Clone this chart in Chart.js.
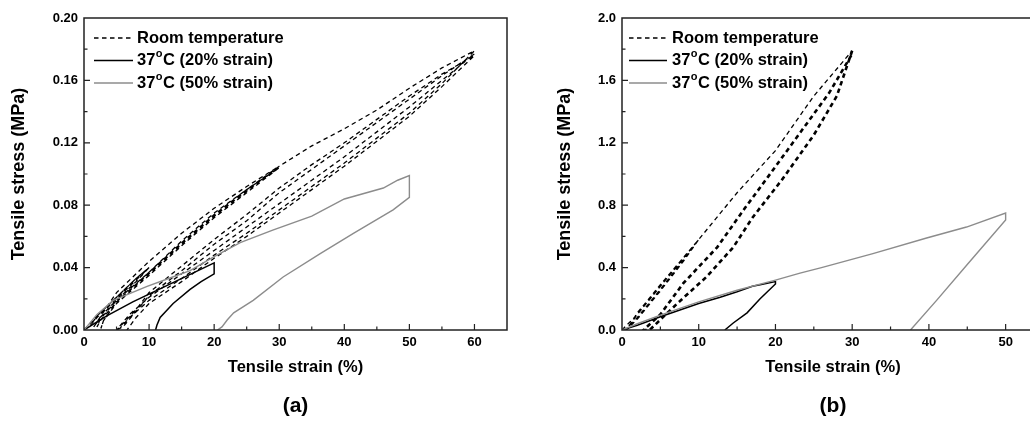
<!DOCTYPE html>
<html lang="en">
<head>
<meta charset="UTF-8">
<title>Tensile stress-strain cycles</title>
<style>
    html, body { margin: 0; padding: 0; background: #fff; width: 1030px; height: 422px; overflow: hidden; }
    .panel { position: absolute; top: 0; }
    #wrapA { left: 0; }
    #wrapB { left: 546px; }
</style>
<script src="https://cdn.jsdelivr.net/npm/chart.js"></script>
</head>
<body>
<div id="wrapA" class="panel"><canvas id="chartA" width="515" height="422"></canvas></div>
<div id="wrapB" class="panel"><canvas id="chartB" width="506" height="422"></canvas></div>
<script>
// ---- data, panel (a) ----
const seriesNames = ['Room temperature', '37°C (20% strain)', '37°C (50% strain)'];

const rtStrainA = [0, 2, 4, 6, 8, 10, 8, 6, 4, 2, 1, 2, 4, 6, 8, 10, 8, 6, 4, 2.5, 1.5,
    5, 10, 15, 20, 25, 30,
    25, 20, 15, 10, 5, 2.5, 2,
    2.5, 5, 10, 15, 20, 25, 30,
    25, 20, 15, 10, 5, 3, 2.6,
    3, 5, 10, 15, 20, 25, 30,
    35, 40, 45, 50, 55, 60,
    55, 50, 45, 40, 35, 30, 25, 20, 15, 10, 7, 5.5,
    6, 8, 10, 15, 20, 25, 30, 35, 40, 45, 50, 55, 60,
    55, 50, 45, 40, 35, 30, 25, 20, 15, 10, 7, 5,
    5.5, 8, 10, 15, 20, 25, 30, 35, 40, 45, 50, 55, 60,
    55, 50, 45, 40, 35, 30, 25, 20, 15, 10, 8, 6.6];
const rtStressA = [0, 0.009, 0.017, 0.025, 0.033, 0.040, 0.032, 0.024, 0.016, 0.008, 0.003, 0.009, 0.017, 0.025, 0.033, 0.040, 0.031, 0.023, 0.015, 0.008, 0.002,
    0.024, 0.044, 0.062, 0.078, 0.092, 0.105,
    0.089, 0.073, 0.055, 0.036, 0.018, 0.006, 0.002,
    0.007, 0.019, 0.037, 0.057, 0.075, 0.090, 0.104,
    0.088, 0.072, 0.054, 0.035, 0.017, 0.006, 0.001,
    0.006, 0.018, 0.037, 0.056, 0.074, 0.090, 0.105,
    0.118, 0.129, 0.141, 0.155, 0.168, 0.179,
    0.158, 0.139, 0.123, 0.107, 0.092, 0.077, 0.062, 0.048, 0.033, 0.019, 0.008, 0.001,
    0.002, 0.012, 0.022, 0.038, 0.055, 0.070, 0.088, 0.103, 0.118, 0.133, 0.148, 0.163, 0.177,
    0.160, 0.143, 0.127, 0.111, 0.096, 0.081, 0.066, 0.051, 0.036, 0.021, 0.010, 0,
    0.002, 0.013, 0.024, 0.041, 0.058, 0.074, 0.091, 0.106, 0.120, 0.135, 0.150, 0.164, 0.176,
    0.156, 0.137, 0.121, 0.105, 0.090, 0.075, 0.060, 0.046, 0.031, 0.017, 0.008, 0];

const hot20StrainA = [0, 3.5, 7.5, 12, 16, 18, 20, 20, 18, 16.3, 13.7, 11.7, 11.2, 11];
const hot20StressA = [0, 0.009, 0.018, 0.027, 0.035, 0.039, 0.043, 0.036, 0.031, 0.026, 0.017, 0.008, 0.003, 0];

const hot50StrainA = [0, 2, 4.5, 9.7, 13, 16.3, 20, 24, 29, 35, 40, 46, 48.2, 50, 50, 47.5, 41.4, 36.3, 30.6, 26, 23, 22, 21.2, 20.5];
const hot50StressA = [0, 0.010, 0.019, 0.028, 0.033, 0.038, 0.047, 0.056, 0.064, 0.073, 0.084, 0.091, 0.096, 0.099, 0.085, 0.077, 0.062, 0.049, 0.034, 0.019, 0.011, 0.0064, 0.002, 0];

const xTicksA = [0, 10, 20, 30, 40, 50, 60];
const yTicksA = [0, 0.04, 0.08, 0.12, 0.16, 0.20];
const yTickLabelsA = ['0.00', '0.04', '0.08', '0.12', '0.16', '0.20'];

// ---- data, panel (b) ----
const rtStrainB = [0, 2, 5, 8, 10, 8, 5, 2, 0.5, 2, 5, 8, 10, 8, 5, 2, 0.6,
    2, 5, 10, 15, 20, 25, 30,
    28, 25, 20.8, 17, 14.5, 11, 7.2, 3.6,
    2.8, 5, 8, 12.4, 16, 19, 23, 27, 30];
const rtStressB = [0, 0.10, 0.28, 0.46, 0.58, 0.45, 0.26, 0.08, 0, 0.10, 0.28, 0.46, 0.58, 0.44, 0.25, 0.07, 0,
    0.11, 0.29, 0.58, 0.88, 1.15, 1.50, 1.79,
    1.50, 1.25, 0.96, 0.72, 0.53, 0.34, 0.17, 0,
    0, 0.10, 0.30, 0.53, 0.78, 0.98, 1.25, 1.52, 1.77];

const hot20StrainB = [0, 2, 5, 10, 12.8, 15, 17, 18, 20, 20, 18, 16.3, 14.5, 13.4];
const hot20StressB = [0, 0.03, 0.085, 0.17, 0.21, 0.245, 0.28, 0.29, 0.31, 0.295, 0.20, 0.11, 0.045, 0];

const hot50StrainB = [0, 2, 5, 10, 15, 20, 23.2, 26, 32.7, 39.7, 44.9, 50, 50, 45, 41, 37.6];
const hot50StressB = [0, 0.04, 0.095, 0.18, 0.255, 0.32, 0.365, 0.40, 0.49, 0.59, 0.66, 0.75, 0.705, 0.42, 0.19, 0];

const xTicksB = [0, 10, 20, 30, 40, 50];
const yTicksB = [0, 0.4, 0.8, 1.2, 1.6, 2.0];
const yTickLabelsB = ['0.0', '0.4', '0.8', '1.2', '1.6', '2.0'];

const FONT = "'Liberation Sans', Arial, Helvetica, sans-serif";

function pts(xs, ys) {
    return xs.map((x, i) => ({ x: x, y: ys[i] }));
}

// box frame, inward ticks and the legend (with superscript o)
const framePlugin = {
    id: 'frame',
    afterDatasetsDraw(chart, args, opts) {
        const { ctx, chartArea: a, scales: { x, y } } = chart;
        ctx.save();
        ctx.strokeStyle = '#222';
        ctx.lineWidth = 1.5;
        ctx.strokeRect(a.left, a.top, a.right - a.left, a.bottom - a.top);

        ctx.lineWidth = 1.2;
        ctx.beginPath();
        let n = Math.round((x.max - x.min) / opts.xMinor);
        for (let i = 1; i < n; i++) {
            const px = x.getPixelForValue(x.min + i * opts.xMinor);
            const len = i % 2 === 0 ? 6 : 3.5;
            ctx.moveTo(px, a.bottom);
            ctx.lineTo(px, a.bottom - len);
        }
        n = Math.round((y.max - y.min) / opts.yMinor);
        for (let i = 1; i < n; i++) {
            const py = y.getPixelForValue(y.min + i * opts.yMinor);
            const len = i % 2 === 0 ? 6 : 3.5;
            ctx.moveTo(a.left, py);
            ctx.lineTo(a.left + len, py);
        }
        ctx.stroke();

        // legend
        const order = [2, 1, 0];
        order.forEach((di, row) => {
            const ds = chart.data.datasets[di];
            const yy = a.top + opts.rows[row];
            ctx.strokeStyle = ds.borderColor;
            ctx.lineWidth = ds.borderWidth;
            ctx.setLineDash(ds.borderDash || []);
            ctx.beginPath();
            ctx.moveTo(a.left + opts.lineFrom, yy);
            ctx.lineTo(a.left + opts.lineTo, yy);
            ctx.stroke();
            ctx.setLineDash([]);

            ctx.fillStyle = '#000';
            ctx.textBaseline = 'middle';
            ctx.textAlign = 'left';
            let tx = a.left + opts.textX;
            const parts = ds.label.split('°');
            ctx.font = 'bold 16.5px ' + FONT;
            ctx.fillText(parts[0], tx, yy);
            tx += ctx.measureText(parts[0]).width;
            if (parts.length > 1) {
                ctx.font = 'bold 11px ' + FONT;
                ctx.fillText('o', tx + 0.5, yy - 6.5);
                tx += ctx.measureText('o').width + 1;
                ctx.font = 'bold 16.5px ' + FONT;
                ctx.fillText(parts[1], tx, yy);
            }
        });
        ctx.restore();
    }
};

function makeChart(id, d) {
    const tickFont = { family: FONT, size: 13, weight: 'bold' };
    return new Chart(document.getElementById(id), {
        type: 'scatter',
        data: {
            datasets: [
                { label: seriesNames[2], data: pts(d.hot50x, d.hot50y), borderColor: '#8c8c8c', borderWidth: 1.4 },
                { label: seriesNames[1], data: pts(d.hot20x, d.hot20y), borderColor: '#000', borderWidth: 1.5 },
                {
                    label: seriesNames[0], data: pts(d.rtx, d.rty), borderColor: '#000', borderWidth: 1.3, borderDash: [4.5, 3.5],
                    segment: { borderWidth: c => (c.p0DataIndex >= d.thickFrom ? 2.6 : undefined) }
                }
            ].map(ds => Object.assign(ds, { showLine: true, pointRadius: 0, fill: false, tension: 0 }))
        },
        options: {
            responsive: false,
            animation: false,
            layout: { padding: { top: 18, right: 8, left: 0, bottom: 0 } },
            plugins: {
                legend: { display: false },
                tooltip: { enabled: false },
                title: {
                    display: true, text: d.tag, position: 'bottom', fullSize: false,
                    font: { family: FONT, size: 21, weight: 'bold' }, color: '#000',
                    padding: { top: 0, bottom: 3 }
                },
                frame: d.frame
            },
            scales: {
                x: {
                    type: 'linear', min: 0, max: d.xMax,
                    grid: { display: false, drawTicks: false },
                    border: { display: false },
                    afterBuildTicks: s => { s.ticks = d.xTicks.map(v => ({ value: v })); },
                    afterFit: s => { s.height = 63.8; },
                    ticks: { font: tickFont, color: '#000', padding: 5, maxRotation: 0, autoSkip: false },
                    title: { display: true, text: 'Tensile strain (%)', font: { family: FONT, size: 16.5, weight: 'bold' }, color: '#000', padding: { top: 0, bottom: 16 } }
                },
                y: {
                    type: 'linear', min: 0, max: d.yMax,
                    grid: { display: false, drawTicks: false },
                    border: { display: false },
                    afterBuildTicks: s => { s.ticks = d.yTicks.map(v => ({ value: v })); },
                    afterFit: s => { s.width = d.yWidth; },
                    ticks: { font: tickFont, color: '#000', padding: 6, callback: (v, i) => d.yLabels[i] },
                    title: { display: true, text: 'Tensile stress (MPa)', font: { family: FONT, size: 18, weight: 'bold' }, color: '#000', padding: { top: 8.2, bottom: 0 } }
                }
            }
        },
        plugins: [framePlugin]
    });
}

makeChart('chartA', {
    tag: '(a)', xMax: 65, yMax: 0.2, yWidth: 84, thickFrom: Infinity,
    rtx: rtStrainA, rty: rtStressA, hot20x: hot20StrainA, hot20y: hot20StressA, hot50x: hot50StrainA, hot50y: hot50StressA,
    xTicks: xTicksA, yTicks: yTicksA, yLabels: yTickLabelsA,
    frame: { xMinor: 5, yMinor: 0.02, rows: [20, 42.5, 65], lineFrom: 10, lineTo: 49, textX: 53 }
});

makeChart('chartB', {
    tag: '(b)', xMax: 55, yMax: 2.0, yWidth: 76, thickFrom: 23,
    rtx: rtStrainB, rty: rtStressB, hot20x: hot20StrainB, hot20y: hot20StressB, hot50x: hot50StrainB, hot50y: hot50StressB,
    xTicks: xTicksB, yTicks: yTicksB, yLabels: yTickLabelsB,
    frame: { xMinor: 5, yMinor: 0.2, rows: [20, 42.5, 65], lineFrom: 7, lineTo: 45, textX: 50 }
});
</script>
</body>
</html>
